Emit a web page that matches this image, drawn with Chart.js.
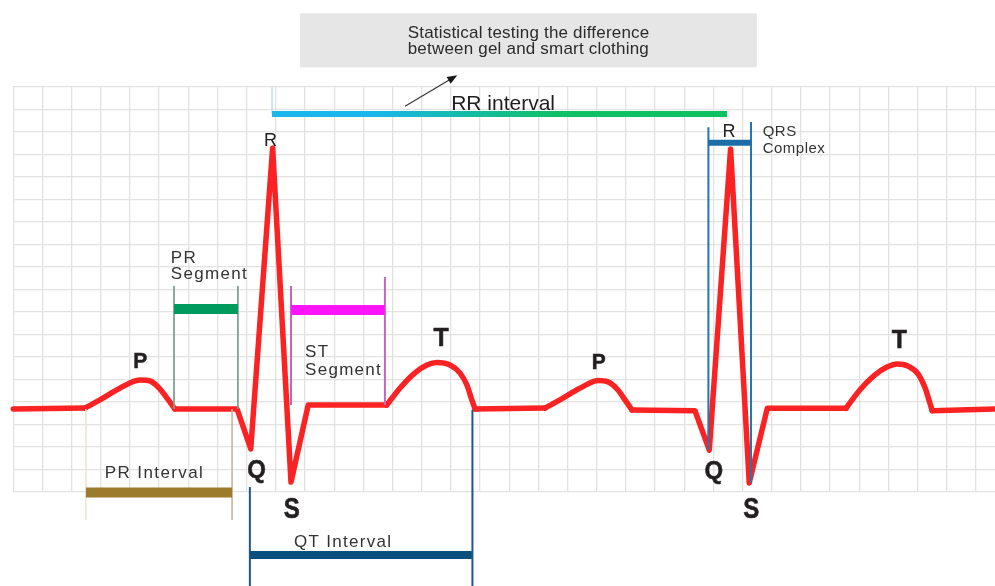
<!DOCTYPE html>
<html><head><meta charset="utf-8">
<script src="https://cdn.jsdelivr.net/npm/chart.js@4/dist/chart.umd.min.js"></script>
<style>html,body{margin:0;padding:0;background:#fff;overflow:hidden}#wrap{width:995px;height:586px;position:relative}</style>
</head><body><div id="wrap"><canvas id="c" width="995" height="586"></canvas></div>
<script>
// ECG trace in grid squares (x: time, y: amplitude)
const ecgX = [0, 2.46, 2.97, 3.49, 3.93, 4.34, 4.69, 5.03, 5.27, 5.54, 7.67, 8.14, 8.89, 9.52, 10.11, 12.80,
  13.26, 13.77, 14.18, 14.52, 14.97, 15.31, 15.55, 15.72, 15.83, 18.23,
  18.74, 19.26, 19.70, 20.04, 20.39, 20.73, 20.97, 21.21, 23.37, 23.86, 24.59, 25.23, 25.85, 28.55,
  29.02, 29.54, 29.95, 30.30, 30.67, 31.02, 31.26, 31.39, 31.50, 33.66];
const ecgY = [3.68, 3.72, 4.08, 4.48, 4.79, 4.96, 4.92, 4.56, 4.16, 3.68, 3.68, 1.90, 15.28, 0.43, 3.85, 3.85,
  4.61, 5.28, 5.63, 5.74, 5.63, 5.28, 4.74, 4.08, 3.68, 3.72,
  4.08, 4.48, 4.79, 4.94, 4.88, 4.52, 4.08, 3.63, 3.60, 1.85, 15.23, 0.39, 3.71, 3.71,
  4.52, 5.19, 5.54, 5.68, 5.59, 5.23, 4.61, 4.08, 3.60, 3.68];
// index ranges of the rounded P and T waves within the trace
const waveRanges = [[1, 9], [15, 24], [25, 33], [39, 48]];

// interval bars
const intervalNames = ['RR interval', 'QRS Complex', 'PR Segment', 'ST Segment', 'PR Interval', 'QT Interval'];
const intervalStart = [8.87, 23.82, 5.51, 9.52, 2.49, 8.11];
const intervalEnd   = [24.47, 25.29, 7.70, 12.74, 7.50, 15.72];
const intervalLevel = [16.79, 15.51, 8.12, 8.08, -0.03, -2.81];

// marker (boundary) lines
const markerX  = [8.87, 23.83, 25.29, 5.51, 7.70, 9.52, 12.74, 2.49, 7.50, 8.11, 15.74];
const markerY0 = [17.98, 16.2, 16.43, 9.14, 9.14, 9.14, 9.54, 3.68, 3.68, 0.21, 3.63];
const markerY1 = [16.79, 1.85, 0.39, 3.68, 3.68, 3.85, 3.85, -1.26, -1.26, -4.19, -4.19];

// wave labels
const waveNames = ['P', 'Q', 'R', 'S', 'T', 'P', 'Q', 'R', 'S', 'T'];
const waveX = [4.35, 8.34, 8.82, 9.55, 14.67, 20.07, 24.02, 24.54, 25.30, 30.38];
const waveY = [5.48, 0.61, 15.38, -1.19, 6.48, 5.44, 0.56, 15.78, -1.18, 6.39];

// styles
const RED = '#fa2222';
const barColors = [null, '#1c6ea6', '#009a5e', '#ff14ff', '#9c7b2c', '#0b4f7e'];
const barWidths = [6, 6, 10, 10, 10, 8];
const markerColors = ['#b4e2f2', '#1f77b4', '#1f77b4', '#7a9e90', '#7a9e90', '#c765bd', '#c765bd', '#ebe5c5', '#bdb492', '#1a5a8a', '#1a5a8a'];
const markerWidths = [1.5, 2, 2, 1, 1, 2, 2, 1.5, 1.5, 2, 2];

const XMAX = 33.655, YMAX = 18;

const rrGradient = (ctx) => {
  const ch = ctx.chart; const xs = ch.scales && ch.scales.x;
  if (!xs) return '#1bb6ec';
  const a = xs.getPixelForValue(intervalStart[0]), b = xs.getPixelForValue(intervalEnd[0]);
  if (!isFinite(a) || !isFinite(b) || a === b) return '#1bb6ec';
  const g = ch.ctx.createLinearGradient(a, 0, b, 0);
  g.addColorStop(0, '#1bb6ec'); g.addColorStop(0.22, '#1bb6ec'); g.addColorStop(0.62, '#0fc067'); g.addColorStop(1, '#10c060');
  return g;
};

const inWave = (i) => waveRanges.some(([a, b]) => i >= a && i < b);

const datasets = [];
const points = ecgX.map((x, i) => ({x, y: ecgY[i]}));
datasets.push({
  data: points,
  showLine: true, borderColor: RED, borderWidth: 5.5, pointRadius: 0,
  tension: 0, borderJoinStyle: 'round', borderCapStyle: 'round', clip: false, order: 5,
  segment: {borderColor: (ctx) => inWave(ctx.p0DataIndex) ? 'rgba(0,0,0,0)' : RED}
});
waveRanges.forEach(([a, b]) => {
  datasets.push({
    data: points.slice(a, b + 1),
    showLine: true, borderColor: RED, borderWidth: 5.5, pointRadius: 0,
    cubicInterpolationMode: 'monotone', borderJoinStyle: 'round', borderCapStyle: 'round', clip: false, order: 5
  });
});
intervalNames.forEach((n, i) => {
  datasets.push({
    data: [{x: intervalStart[i], y: intervalLevel[i]}, {x: intervalEnd[i], y: intervalLevel[i]}],
    showLine: true, pointRadius: 0, borderWidth: barWidths[i], borderCapStyle: 'butt', clip: false, order: 1,
    borderColor: i === 0 ? rrGradient : barColors[i]
  });
});
markerX.forEach((x, i) => {
  datasets.push({
    data: [{x, y: markerY0[i]}, {x, y: markerY1[i]}],
    showLine: true, pointRadius: 0, borderWidth: markerWidths[i], borderColor: markerColors[i],
    borderCapStyle: 'butt', clip: false, order: 2
  });
});

const textPlugin = {
  id: 'ecgText',
  afterDraw(chart) {
    const c = chart.ctx, xs = chart.scales.x, ys = chart.scales.y;
    const X = v => xs.getPixelForValue(v), Y = v => ys.getPixelForValue(v);
    c.save();
    // grey note box
    c.fillStyle = '#e6e6e6';
    c.fillRect(X(9.83), Y(21.26), X(25.49) - X(9.83), Y(18.86) - Y(21.26));
    const txt = (s, x, y, font, align, color, ls, sy, stroke) => {
      c.save();
      c.font = font; c.textAlign = align; c.textBaseline = 'alphabetic'; c.fillStyle = color;
      try { c.letterSpacing = (ls || 0) + 'px'; } catch (e) {}
      c.translate(x, y); c.scale(1, sy || 1);
      if (stroke) { c.strokeStyle = color; c.lineWidth = stroke; c.lineJoin = 'miter'; c.strokeText(s, 0, 0); }
      c.fillText(s, 0, 0);
      c.restore();
    };
    const F = '"Liberation Sans", Arial, Helvetica, sans-serif';
    txt('Statistical testing the difference', X(13.52), Y(20.15), '17px ' + F, 'left', '#2b2b2b', 0.2);
    txt('between gel and smart clothing', X(13.52), Y(19.45), '17px ' + F, 'left', '#2b2b2b', 0.2);
    // arrow
    const ax0 = X(13.43), ay0 = Y(17.13), ax1 = X(15.22), ay1 = Y(18.51);
    const ang = Math.atan2(ay1 - ay0, ax1 - ax0);
    c.strokeStyle = '#333'; c.lineWidth = 1.1;
    c.beginPath(); c.moveTo(ax0, ay0); c.lineTo(ax1 - 6 * Math.cos(ang), ay1 - 6 * Math.sin(ang)); c.stroke();
    c.fillStyle = '#1a1a1a';
    c.beginPath(); c.moveTo(ax1, ay1);
    c.lineTo(ax1 - 10 * Math.cos(ang) + 4 * Math.sin(ang), ay1 - 10 * Math.sin(ang) - 4 * Math.cos(ang));
    c.lineTo(ax1 - 10 * Math.cos(ang) - 4 * Math.sin(ang), ay1 - 10 * Math.sin(ang) + 4 * Math.cos(ang));
    c.closePath(); c.fill();
    // interval labels
    txt('RR interval', X(16.79), Y(16.96), '21px ' + F, 'center', '#1e1e1e', 0);
    txt('QRS', X(25.69), Y(15.81), '15px ' + F, 'left', '#333', 0.5);
    txt('Complex', X(25.69), Y(15.04), '15px ' + F, 'left', '#333', 0.5);
    txt('PR', X(5.40), Y(10.18), '17px ' + F, 'left', '#333', 1.3);
    txt('Segment', X(5.40), Y(9.44), '17px ' + F, 'left', '#333', 1.3);
    txt('ST', X(10.0), Y(5.97), '17px ' + F, 'left', '#333', 1.3);
    txt('Segment', X(10.0), Y(5.19), '17px ' + F, 'left', '#333', 1.3);
    txt('PR Interval', X(4.84), Y(0.62), '17px ' + F, 'center', '#333', 1.4);
    txt('QT Interval', X(11.31), Y(-2.44), '17px ' + F, 'center', '#333', 1.3);
    // wave labels
    waveNames.forEach((n, i) => {
      let font = 'bold 24px ' + F, sy = 1, st = 0.5;
      if (n === 'P') { font = 'bold 21px ' + F; sy = 1.05; }
      if (n === 'T') { font = 'bold 25px ' + F; }
      if (n === 'Q') { font = 'bold 24px ' + F; sy = 1.1; }
      if (n === 'S') { font = 'bold 24px ' + F; sy = 1.22; }
      if (n === 'R') { font = '18px ' + F; st = 0; }
      txt(n, X(waveX[i]), Y(waveY[i]), font, 'center', n === 'R' ? '#222' : '#231f20', 0, sy, st);
    });
    c.restore();
  }
};

const intTicks = (max) => (scale) => {
  const t = [];
  for (let v = 0; v <= max + 1e-9; v++) t.push({value: v});
  scale.ticks = t;
};

new Chart(document.getElementById('c'), {
  type: 'scatter',
  data: {datasets},
  options: {
    responsive: false, animation: false, devicePixelRatio: 1,
    layout: {padding: {left: 13.3, right: 0, top: 86.7, bottom: 94.3}},
    plugins: {legend: {display: false}, tooltip: {enabled: false}},
    scales: {
      x: {type: 'linear', min: 0, max: XMAX, afterBuildTicks: intTicks(XMAX),
        ticks: {display: false}, border: {display: false},
        grid: {color: '#e2e2e2', lineWidth: 1.3, drawTicks: false}},
      y: {type: 'linear', min: 0, max: YMAX, afterBuildTicks: intTicks(YMAX),
        ticks: {display: false}, border: {display: false},
        grid: {color: '#e2e2e2', lineWidth: 1.3, drawTicks: false}}
    }
  },
  plugins: [textPlugin]
});
</script>
</body></html>
